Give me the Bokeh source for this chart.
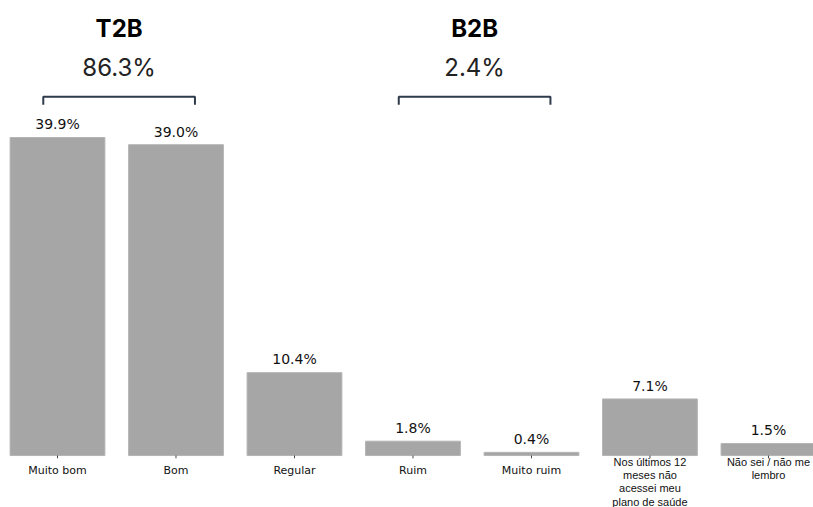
from bokeh.plotting import figure
from bokeh.models import Range1d, ColumnDataSource
from bokeh.core.properties import value
from bokeh.embed import file_html
from bokeh.resources import INLINE

# ---- data ----
categories = ["Muito bom", "Bom", "Regular", "Ruim", "Muito ruim",
              "Nos últimos 12\nmeses não\nacessei meu\nplano de saúde",
              "Não sei / não me\nlembro"]
values = [39.9, 39.0, 10.4, 1.8, 0.4, 7.1, 1.5]
group_names = ["T2B", "B2B"]
group_totals = [86.3, 2.4]
group_members = [[0, 1], [3, 4]]

BAR_COLOR = "#a6a6a6"
BRACKET_COLOR = "#2e3b4c"

x = list(range(len(categories)))

p = figure(width=813, height=507, output_backend="svg", toolbar_location=None,
           x_axis_location=None, y_axis_location=None, min_border=0,
           x_range=Range1d(-0.481, 6.380), y_range=Range1d(-6.52, 57.09))
p.grid.visible = False
p.outline_line_color = None
p.background_fill_color = "white"
p.border_fill_color = "white"

src = ColumnDataSource(dict(x=x, top=values, lab=[f"{v:.1f}%" for v in values],
                            ly=[v + 1.65 for v in values]))
p.vbar(x="x", top="top", bottom=0, width=0.8, source=src,
       fill_color=BAR_COLOR, line_color="#b4b4b4", line_width=1)

# value labels
p.text(x="x", y="ly", text="lab", source=src, text_align="center",
       text_baseline="alphabetic", text_font=value("DejaVu Sans"),
       text_font_size="14px", text_color="#111111")

# tick marks
p.segment(x0=x, y0=[0] * len(x), x1=x, y1=[-0.35] * len(x),
          line_color="#444444", line_width=1)

# category labels: first five DejaVu, last two Arial-like
n_dv = 5
p.text(x=x[:n_dv], y=[-1.88] * n_dv, text=categories[:n_dv], text_align="center",
       text_baseline="middle", text_font=value("DejaVu Sans"),
       text_font_size="11px", text_color="#111111")
p.text(x=x[n_dv:], y=[-0.05] * (len(x) - n_dv), text=categories[n_dv:],
       text_align="center", text_baseline="top", text_font=value("Liberation Sans"),
       text_font_size="11px", text_color="#111111", text_line_height=1.1)

# group brackets and headers
bracket_y = 45.0
for name, tot, mem in zip(group_names, group_totals, group_members):
    x0 = min(mem) - 0.12
    x1 = max(mem) + 0.16
    p.line(x=[x0, x0, x1, x1], y=[bracket_y - 1.0, bracket_y, bracket_y, bracket_y - 1.0],
           line_color=BRACKET_COLOR, line_width=2)
    cx = (min(mem) + max(mem)) / 2 + 0.02
    p.text(x=[cx], y=[bracket_y + 8.6], text=[name], text_align="center",
           text_baseline="middle", text_font=value("Inter"), text_font_style="bold",
           text_font_size="24px", text_color="#000000")
    p.text(x=[cx], y=[bracket_y + 3.7], text=[f"{tot:.1f}%"], text_align="center",
           text_baseline="middle", text_font=value("Inter"),
           text_font_size="24px", text_color="#222222")

open("out.html", "w").write(file_html(p, INLINE))
